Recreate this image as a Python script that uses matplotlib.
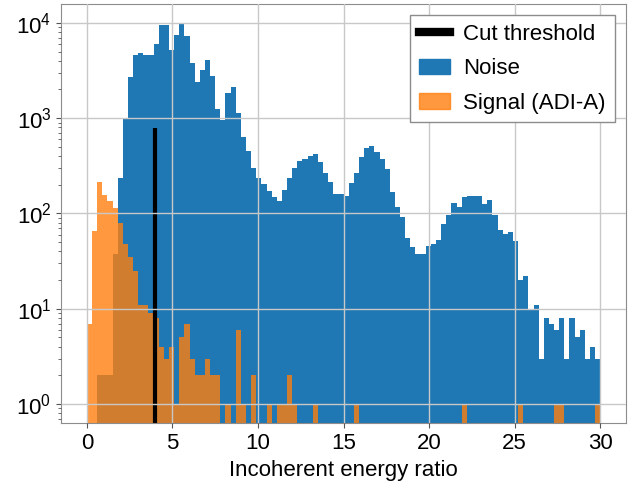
import matplotlib
matplotlib.use("Agg")
import matplotlib.pyplot as plt
from matplotlib.lines import Line2D
from matplotlib.patches import Patch
import numpy as np

# 100 bins of width 0.3 from 0 to 30
bin_edges = np.linspace(0, 30, 101)

noise_counts = [
    0, 0, 2, 2, 2, 38, 235, 1000, 2700, 4550,
    4800, 4600, 4650, 6000, 9500, 9600, 5200, 7400, 10000, 7300,
    3800, 2370, 3180, 4100, 2750, 1250, 955, 1850, 2140, 1120,
    635, 450, 302, 237, 203, 171, 148, 134, 177, 237,
    300, 356, 373, 400, 420, 350, 264, 212, 160, 160,
    153, 208, 264, 387, 490, 510, 445, 370, 293, 170,
    118, 91, 55, 45, 38, 38, 46, 48, 53, 77,
    97, 129, 118, 150, 153, 153, 153, 125, 139, 97,
    67, 61, 64, 51, 20, 22, 10, 11, 3, 8,
    7, 6, 8, 3, 8, 5, 6, 3, 4, 3,
]

signal_counts = [
    7, 65, 215, 155, 135, 114, 79, 48, 35, 25,
    11, 11, 9, 8, 4, 3, 4, 1, 5, 7,
    3, 2, 2, 3, 2, 2, 0, 1, 0, 6,
    1, 0, 2, 0, 0, 1, 0, 1, 1, 2,
    1, 0, 0, 0, 1, 0, 0, 0, 0, 0,
    0, 0, 1, 0, 0, 0, 0, 0, 0, 0,
    0, 0, 0, 0, 0, 0, 0, 0, 0, 0,
    0, 0, 0, 1, 0, 0, 0, 0, 0, 0,
    0, 0, 0, 0, 1, 0, 0, 0, 0, 0,
    0, 1, 1, 0, 0, 0, 0, 0, 0, 1,
]

cut_threshold = 4.0
cut_height = 790

plt.rcParams["font.family"] = ["Liberation Sans", "DejaVu Sans"]
plt.rcParams["mathtext.default"] = "regular"
plt.rcParams["font.size"] = 16

centers = 0.5 * (bin_edges[:-1] + bin_edges[1:])

fig = plt.figure(figsize=(6.44, 4.91), dpi=100)
ax = fig.add_subplot(111)
fig.subplots_adjust(left=0.095, right=0.972, top=0.992, bottom=0.138)

ax.hist(centers, bins=bin_edges, weights=noise_counts, color="#1f77b4",
        log=True, label="Noise")
ax.hist(centers, bins=bin_edges, weights=signal_counts, color="#ff7f0e",
        alpha=0.8, log=True, label="Signal (ADI-A)")
ax.vlines(cut_threshold, 0.1, cut_height, colors="k", linewidth=3,
          label="Cut threshold")

ax.set_yscale("log")
ax.set_xlim(-1.5, 31.5)
ax.set_ylim(0.63, 15800)
ax.set_xticks([0, 5, 10, 15, 20, 25, 30])
ax.set_xlabel("Incoherent energy ratio")

ax.grid(True, which="major", color="#c8c8c8", linewidth=1)
ax.set_axisbelow(False)
for sp in ax.spines.values():
    sp.set_color("#8c8c8c")
ax.tick_params(which="both", color="#555555")

handles = [Line2D([], [], color="k", linewidth=6),
           Patch(color="#1f77b4"),
           Patch(color="#ff7f0e", alpha=0.8)]
ax.legend(handles, ["Cut threshold", "Noise", "Signal (ADI-A)"],
          loc="upper right", fancybox=False, edgecolor="#8c8c8c",
          framealpha=1, labelspacing=0.6, handlelength=1.4,
          handletextpad=0.6, borderaxespad=0.5)

fig.savefig("out.png", dpi=100)
